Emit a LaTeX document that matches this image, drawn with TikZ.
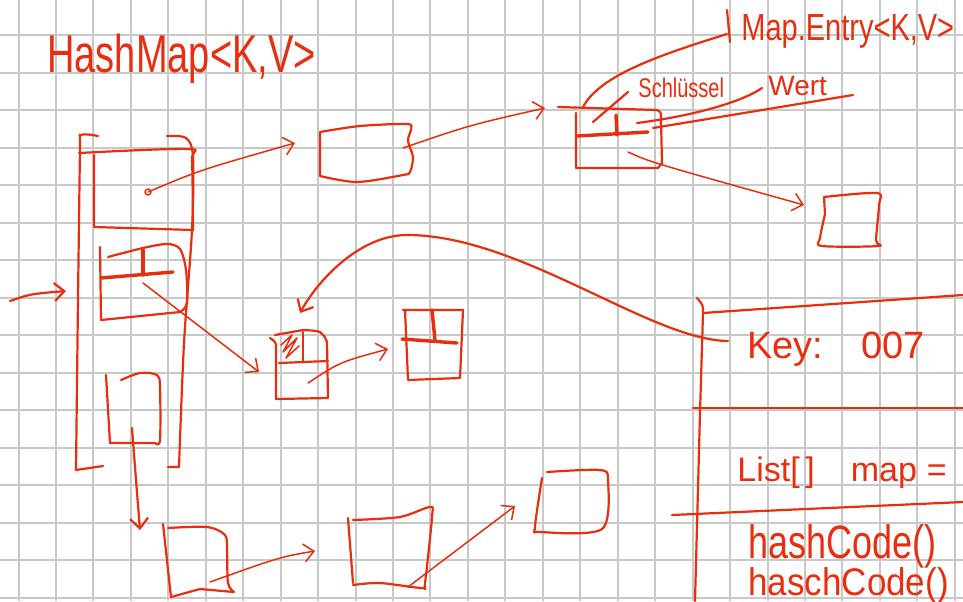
\documentclass[tikz,border=0pt]{standalone}
\usepackage{graphicx}
\usepackage{fontspec}
\setmainfont{Liberation Sans}
\usepackage{tikz}
\usetikzlibrary{arrows.meta}

\definecolor{ink}{RGB}{232,46,14}
\definecolor{paper}{RGB}{200,200,200}

\begin{document}
\begin{tikzpicture}[x=0.5pt,y=-0.5pt]

	\tikzstyle grid lines=[paper, line width=1pt];
	\tikzstyle pen=[ink, line width=1.1pt, line cap=round, line join=round];
	\tikzstyle thin pen=[pen, line width=0.75pt];
	\tikzstyle heavy pen=[pen, line width=1.7pt];
	\tikzstyle barb=[-{Straight Barb[length=5pt,width=9pt]}];
	\tikzstyle hand=[ink, inner sep=0pt, anchor=base west];

	\useasboundingbox (0,0) rectangle (963,601);
	\clip (0,0) rectangle (963,601);
	\fill[white] (0,0) rectangle (963,601);

	\foreach \k in {0,...,25}
		\draw[grid lines] (18.5+37.45*\k,0) -- (18.5+37.45*\k,601);
	\foreach \k in {0,...,15}
		\draw[grid lines] (0,35+37.5*\k) -- (963,35+37.5*\k);

	\node[hand] (title) at (47,72) {\fontsize{19}{19}\selectfont\scalebox{1}[1.4]{HashMap<K,V>}};

	% the array
	\draw[pen] plot[smooth] coordinates {(98,136) (81,135) (80,150) (78,300) (76,470)} -- (103,466);
	\draw[pen] plot[smooth] coordinates {(167,136) (186,138) (193,157) (192,230) (184,343) (179,467)} -- (168,467);

	\coordinate (in) at (10,301);
	\coordinate (in tip) at (66,291);
	\draw[pen,barb] (in) .. controls (30,294) .. (in tip);

	% slot 0
	\draw[pen] plot[smooth] coordinates {(79,153) (188,149) (192,160) (193,230)};
	\draw[pen] (94,155) -- (94,227) -- (193,230);
	\coordinate (dot0) at (148,192);
	\draw[thin pen] (dot0) circle (3);

	% slot 1
	\draw[pen] plot[smooth] coordinates {(108,257) (143,248) (167,244) (180,249) (186,270) (187,303) (180,312)} -- (101,320) -- (100,247);
	\draw[heavy pen] (101,278) -- (173,272);
	\draw[heavy pen] (143,250) -- (143,275);
	\coordinate (key1) at (143,283);

	% slot 2
	\draw[pen] plot[smooth] coordinates {(121,380) (140,373) (157,375) (160,387) (160,440) (155,443)} -- (110,443);
	\draw[pen] (106,375) -- (110,443);
	\coordinate (dot2) at (132,428);

	% first bucket
	\draw[pen] plot[smooth] coordinates {(320,132) (360,126) (407,124) (411,129) (408,141) (413,157) (410,172) (403,175) (357,182) (320,176)} -- cycle;
	\coordinate (box0 w) at (295,143);
	\coordinate (box0 e) at (403,148);
	\draw[thin pen,barb] (dot0) .. controls (200,170) .. (box0 w);

	% Map.Entry
	\draw[pen] (558,107) -- (657,110) .. controls (661,112) .. (661,120) -- (662,163) -- (658,168) -- (576,168) -- (576,113);
	\draw[heavy pen] (577,136) -- (648,132);
	\draw[heavy pen] (616,115) -- (617,135);
	\coordinate (entry w) at (545,108);
	\coordinate (val) at (628,152);
	\draw[thin pen,barb] (box0 e) .. controls (470,125) .. (entry w);

	\node[hand] (entry) at (741,40) {\fontsize{14.5}{15}\selectfont\scalebox{1}[1.3]{Map.Entry<K,V>}};
	\node[hand] (skey) at (638,97) {\fontsize{10}{10}\selectfont\scalebox{1}[1.35]{Schlüssel}};
	\node[hand] (sval) at (768,95) {\fontsize{14}{14}\selectfont Wert};

	\draw[pen] (583,107) .. controls (600,75) and (660,55) .. (727,34);
	\draw[pen] (727,10) -- (730,42);
	\draw[pen] (593,122) -- (628,92);
	\draw[pen] (637,123) .. controls (700,115) and (745,100) .. (762,88);
	\draw[pen] (653,128) -- (853,95);

	\draw[pen] plot[smooth] coordinates {(824,197) (877,193) (879,205) (876,240) (878,246) (822,246) (820,238) (825,214)} -- cycle;
	\coordinate (box1 w) at (804,205);
	\draw[thin pen,barb] (val) .. controls (650,162) .. (box1 w);

	% entry in slot 1
	\draw[pen] (270,338) .. controls (276,342) .. (276,350) -- (276,399) -- (328,398) -- (327,342) .. controls (322,331) .. (303,330) -- (275,335);
	\draw[pen] (279,363) -- (328,361);
	\draw[pen] (303,332) -- (303,362);
	\draw[thin pen] (281,345) -- (292,335) -- (283,352) -- (297,338) -- (286,358) -- (299,346);
	\coordinate (node1 w) at (259,372);
	\coordinate (node1 dot) at (308,383);
	\draw[thin pen,barb] (key1) -- (node1 w);

	\draw[pen] (403,310) -- (463,310) -- (460,378) -- (408,380) -- (405,310);
	\draw[heavy pen] (402,339) -- (457,343);
	\draw[heavy pen] (432,310) -- (435,340);
	\coordinate (node2 w) at (388,349);
	\draw[thin pen,barb] (node1 dot) .. controls (340,362) .. (node2 w);

	% chain below slot 2
	\coordinate (chain0 n) at (140,530);
	\draw[pen,barb] (dot2) .. controls (136,480) .. (chain0 n);

	\draw[pen] plot[smooth] coordinates {(168,528) (207,527) (225,535) (227,550) (228,583) (234,592)} -- (200,589) -- (171,597) -- (163,524);
	\coordinate (chain0 dot) at (210,582);
	\coordinate (chain1 w) at (315,551);
	\draw[thin pen,barb] (chain0 dot) .. controls (280,557) .. (chain1 w);

	\draw[pen] plot[smooth] coordinates {(353,520) (400,517) (430,507) (432,517) (425,583) (422,588) (380,583) (353,585)};
	\draw[pen] (348,518) -- (353,583);
	\coordinate (chain1 dot) at (408,587);
	\coordinate (chain2 w) at (515,506);
	\draw[thin pen,barb] (chain1 dot) -- (chain2 w);

	\draw[pen] plot[smooth] coordinates {(547,472) (600,470) (608,480) (602,529) (540,532) (535,527) (542,478)};

	% the object on the right
	\draw[pen] (697,298) .. controls (703,305) .. (703,313) -- (700,413) -- (695,601);
	\draw[pen] (703,313) -- (963,295);
	\draw[pen] (693,408) -- (963,408);
	\draw[pen] (672,515) -- (963,502);

	\node[hand] (key) at (747,358) {\fontsize{19}{19}\selectfont Key:\hspace{19pt}007};
	\node[hand] (list) at (737,481) {\fontsize{17}{17}\selectfont List[\,]\hspace{18pt}map\hspace{5pt}=};
	\node[hand] (hash) at (748,558) {\fontsize{18}{18}\selectfont\scalebox{1}[1.3]{hashCode()}};
	\node[hand] (hasch) at (748,595) {\fontsize{17.5}{17.5}\selectfont\scalebox{1}[1.1]{haschCode()}};

	\coordinate (key w) at (728,341);
	\coordinate (top) at (407,235);
	\coordinate (node1 n) at (300,313);
	\draw[pen,barb] (key w) .. controls (650,340) and (520,235) .. (top) .. controls (360,235) and (318,280) .. (node1 n);

\end{tikzpicture}
\end{document}
